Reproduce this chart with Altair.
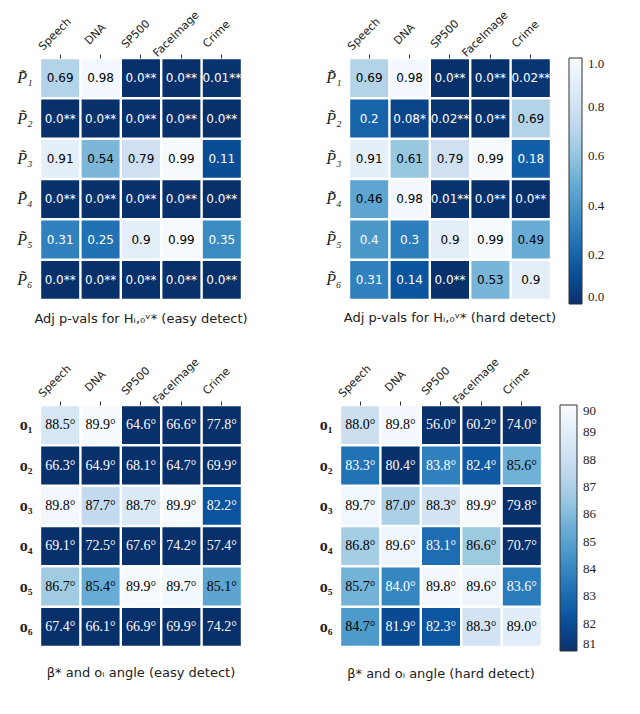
import altair as alt
import numpy as np
import pandas as pd

datasets = ["Speech", "DNA", "SP500", "FaceImage", "Crime"]
p_rows = ["P\u0303\u2081", "P\u0303\u2082", "P\u0303\u2083", "P\u0303\u2084", "P\u0303\u2085", "P\u0303\u2086"]
o_rows = ["o\u2081", "o\u2082", "o\u2083", "o\u2084", "o\u2085", "o\u2086"]

pval_easy = [
    [0.69, 0.98, 0.0, 0.0, 0.01],
    [0.0, 0.0, 0.0, 0.0, 0.0],
    [0.91, 0.54, 0.79, 0.99, 0.11],
    [0.0, 0.0, 0.0, 0.0, 0.0],
    [0.31, 0.25, 0.9, 0.99, 0.35],
    [0.0, 0.0, 0.0, 0.0, 0.0],
]
pval_hard = [
    [0.69, 0.98, 0.0, 0.0, 0.02],
    [0.2, 0.08, 0.02, 0.0, 0.69],
    [0.91, 0.61, 0.79, 0.99, 0.18],
    [0.46, 0.98, 0.01, 0.0, 0.0],
    [0.4, 0.3, 0.9, 0.99, 0.49],
    [0.31, 0.14, 0.0, 0.53, 0.9],
]
angle_easy = [
    [88.5, 89.9, 64.6, 66.6, 77.8],
    [66.3, 64.9, 68.1, 64.7, 69.9],
    [89.8, 87.7, 88.7, 89.9, 82.2],
    [69.1, 72.5, 67.6, 74.2, 57.4],
    [86.7, 85.4, 89.9, 89.7, 85.1],
    [67.4, 66.1, 66.9, 69.9, 74.2],
]
angle_hard = [
    [88.0, 89.8, 56.0, 60.2, 74.0],
    [83.3, 80.4, 83.8, 82.4, 85.6],
    [89.7, 87.0, 88.3, 89.9, 79.8],
    [86.8, 89.6, 83.1, 86.6, 70.7],
    [85.7, 84.0, 89.8, 89.6, 83.6],
    [84.7, 81.9, 82.3, 88.3, 89.0],
]

blues_r = ["#08306b", "#08519c", "#2171b5", "#4292c6", "#6baed6",
           "#9ecae1", "#c6dbef", "#deebf7", "#f7fbff"]


def pfmt(v):
    stars = "**" if v < 0.05 else ("*" if v < 0.1 else "")
    return f"{v}{stars}"


def afmt(v):
    return f"{v:.1f}\u00b0"


def to_long(mat, rows, fmt):
    recs = []
    for i, r in enumerate(rows):
        for j, c in enumerate(datasets):
            v = mat[i][j]
            recs.append({"row": r, "col": c, "value": v, "label": fmt(v)})
    return pd.DataFrame(recs)


W, H = 202, 242


def panel(df, rows, dom, thresh, title, cell_font, cell_size, ylab_style, ylab_weight,
          legend, title_offset):
    scale = alt.Scale(domain=list(np.linspace(dom[0], dom[1], len(blues_r))),
                      range=blues_r, clamp=True)
    base = alt.Chart(df).encode(
        x=alt.X("col:N", sort=datasets,
                scale=alt.Scale(paddingInner=0.06, paddingOuter=0.03),
                axis=alt.Axis(orient="top", title=None, labelAngle=315,
                              labelAlign="center", labelBaseline="middle",
                              labelFont="DejaVu Sans", labelFontSize=11,
                              labelColor="#222", labelPadding=20, labelOffset=-5,
                              labelOverlap=False, ticks=True, tickSize=4,
                              tickColor="#333", domain=False)),
        y=alt.Y("row:N", sort=rows,
                scale=alt.Scale(paddingInner=0.06, paddingOuter=0.03),
                axis=alt.Axis(title=None, ticks=False, domain=False,
                              labelFont="Liberation Serif", labelFontSize=16,
                              labelFontStyle=ylab_style, labelFontWeight=ylab_weight,
                              labelColor="#222", labelPadding=8)),
    )
    rect = base.mark_rect().encode(
        color=alt.Color("value:Q", scale=scale, legend=legend)
    )
    text = base.mark_text(font=cell_font, fontSize=cell_size).encode(
        text="label:N",
        color=alt.condition(alt.datum.value < thresh, alt.value("white"),
                            alt.value("black")),
    )
    return alt.layer(rect, text).properties(
        width=W, height=H,
        title=alt.TitleParams(title, orient="bottom", font="DejaVu Sans",
                              fontSize=13, fontWeight="normal", color="#222",
                              offset=title_offset),
    )


def make_legend(vals, fmt, thickness):
    return alt.Legend(title=None, direction="vertical", orient="right",
                      gradientLength=246, gradientThickness=thickness,
                      gradientStrokeColor="#333", gradientStrokeWidth=1,
                      values=vals, format=fmt, labelFont="Liberation Serif",
                      labelFontSize=13, labelColor="#222", offset=18,
                      labelOffset=6)


df_pe = to_long(pval_easy, p_rows, pfmt)
df_ph = to_long(pval_hard, p_rows, pfmt)
df_ae = to_long(angle_easy, o_rows, afmt)
df_ah = to_long(angle_hard, o_rows, afmt)

p_title_e = "Adj p-vals for H\u1d62,\u2080\u1d5b* (easy detect)"
p_title_h = "Adj p-vals for H\u1d62,\u2080\u1d5b* (hard detect)"
a_title_e = "\u03b2* and o\u1d62 angle (easy detect)"
a_title_h = "\u03b2* and o\u1d62 angle (hard detect)"

tl = panel(df_pe, p_rows, (0, 1), 0.42, p_title_e, "DejaVu Sans", 12, "italic", "normal",
           None, 13)
tr = panel(df_ph, p_rows, (0, 1), 0.42, p_title_h, "DejaVu Sans", 12, "italic", "normal",
           make_legend([0, 0.2, 0.4, 0.6, 0.8, 1.0], ".1f", 13), 7)
bl = panel(df_ae, o_rows, (81, 90), 84.3, a_title_e, "Liberation Serif", 14, "normal", "bold",
           None, 20)
br = panel(df_ah, o_rows, (81, 90), 84.3, a_title_h, "Liberation Serif", 14, "normal", "bold",
           make_legend(list(range(81, 91)), "d", 17), 16)

top = alt.hconcat(tl, tr, spacing=77).resolve_scale(color="independent")
bottom = alt.hconcat(bl, br, spacing=77).resolve_scale(color="independent")

chart = alt.vconcat(top, bottom, spacing=29).resolve_scale(color="independent").configure_view(
    stroke=None
).properties(padding={"left": 8, "top": 0, "right": 5, "bottom": 5})

chart.save("out.html", embed_options={"renderer": "svg", "actions": False})
